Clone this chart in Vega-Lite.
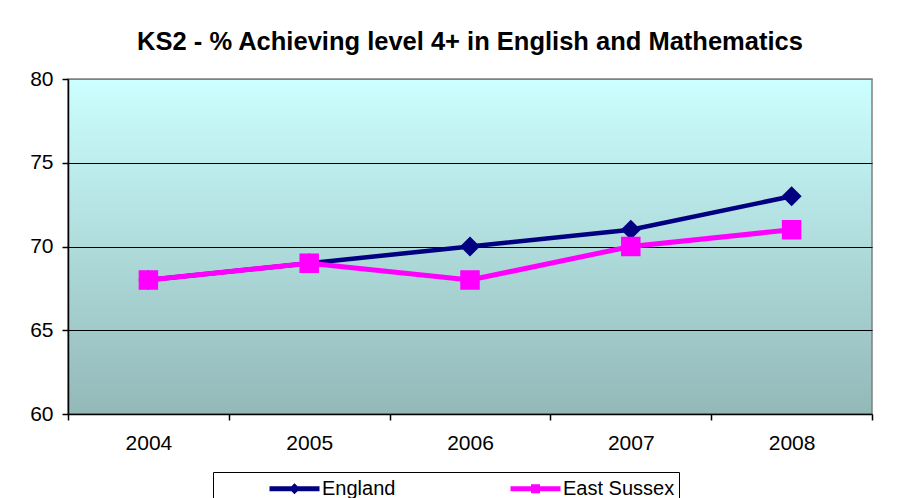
{
  "$schema": "https://vega.github.io/schema/vega-lite/v6.json",
  "autosize": {"type": "none"},
  "width": 804,
  "height": 335,
  "padding": {"left": 68, "top": 79, "right": 39, "bottom": 84},
  "background": "white",
  "title": {
    "text": "KS2 - % Achieving level 4+ in English and Mathematics",
    "font": "Liberation Sans",
    "fontSize": 25.5,
    "fontWeight": "bold",
    "color": "black",
    "anchor": "middle",
    "offset": 13
  },
  "config": {
    "view": {
      "fill": {"gradient": "linear", "x1": 0, "y1": 0, "x2": 0, "y2": 1,
        "stops": [{"offset": 0, "color": "#CCFFFF"}, {"offset": 1, "color": "#93B8B8"}]},
      "stroke": "#808080",
      "strokeWidth": 1.5
    },
    "axis": {"labelFont": "Liberation Sans", "labelFontSize": 21, "labelColor": "black", "domainColor": "black", "tickColor": "black", "domainWidth": 1.5, "tickWidth": 1.5}
  },
  "data": {"values": [
    {"year": 2004, "series": "England", "value": 68},
    {"year": 2005, "series": "England", "value": 69},
    {"year": 2006, "series": "England", "value": 70},
    {"year": 2007, "series": "England", "value": 71},
    {"year": 2008, "series": "England", "value": 73},
    {"year": 2004, "series": "East Sussex", "value": 68},
    {"year": 2005, "series": "East Sussex", "value": 69},
    {"year": 2006, "series": "East Sussex", "value": 68},
    {"year": 2007, "series": "East Sussex", "value": 70},
    {"year": 2008, "series": "East Sussex", "value": 71}
  ]},
  "encoding": {
    "x": {"field": "year", "type": "quantitative",
      "scale": {"domain": [2003.5, 2008.5], "nice": false, "zero": false},
      "axis": {"title": null, "values": [2003.5, 2004.5, 2005.5, 2006.5, 2007.5, 2008.5],
        "labelExpr": "datum.value > 2008 ? '' : format(datum.value + 0.5, 'd')",
        "labelOffset": 80.4, "tickSize": 6, "labelPadding": 12, "grid": false, "labelFlush": false, "labelOverlap": false}},
    "y": {"field": "value", "type": "quantitative",
      "scale": {"domain": [60, 80], "nice": false, "zero": false},
      "axis": {"title": null, "values": [60, 65, 70, 75, 80], "tickSize": 6, "labelPadding": 9,
        "grid": true, "gridColor": {"condition": {"test": "datum.value === 80", "value": "#808080"}, "value": "black"}, "gridWidth": 1.2}}
  },
  "layer": [
    {"transform": [{"filter": "datum.series === 'England'"}],
     "mark": {"type": "line", "color": "#000080", "strokeWidth": 4.5}},
    {"transform": [{"filter": "datum.series === 'England'"}],
     "mark": {"type": "point", "shape": "diamond", "filled": true, "color": "#000080", "size": 400, "opacity": 1}},
    {"transform": [{"filter": "datum.series === 'East Sussex'"}],
     "mark": {"type": "line", "color": "#FF00FF", "strokeWidth": 5}},
    {"transform": [{"filter": "datum.series === 'East Sussex'"}],
     "mark": {"type": "point", "shape": "square", "filled": true, "color": "#FF00FF", "size": 380, "opacity": 1}},
    {"mark": {"type": "point", "opacity": 0, "filled": false},
     "encoding": {
       "stroke": {"field": "series", "type": "nominal",
         "scale": {"domain": ["England", "East Sussex"], "range": ["#000080", "#FF00FF"]},
         "legend": {"title": null, "orient": "none", "legendX": 145, "legendY": 393, "direction": "horizontal",
           "columns": 2, "gridAlign": "all", "columnPadding": 24,
           "strokeColor": "black", "fillColor": "white", "padding": 4,
           "symbolOffset": 65, "symbolSize": 400, "symbolStrokeWidth": 5, "symbolOpacity": 1,
           "labelFont": "Liberation Sans", "labelFontSize": 20, "labelColor": "black", "labelOffset": 15, "labelLimit": 300}},
       "fill": {"field": "series", "type": "nominal",
         "scale": {"domain": ["England", "East Sussex"], "range": ["#000080", "#FF00FF"]}},
       "shape": {"field": "series", "type": "nominal",
         "scale": {"domain": ["England", "East Sussex"],
           "range": ["M-2.5,0L2.5,0M0,-0.2L0.2,0L0,0.2L-0.2,0Z", "M-2.5,0L2.5,0M-0.2,-0.2L0.2,-0.2L0.2,0.2L-0.2,0.2Z"]}}
     }}
  ]
}
